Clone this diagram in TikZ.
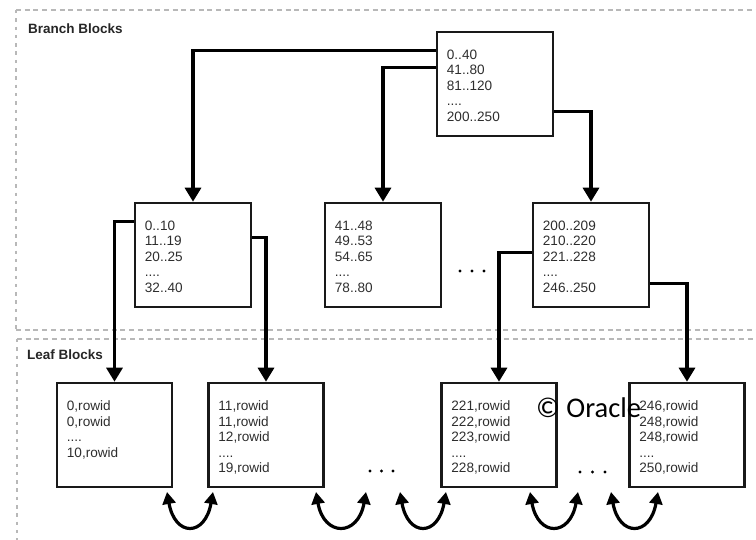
\documentclass[tikz,border=0pt]{standalone}
\usepackage{fontspec}
\setmainfont{Liberation Sans}
\newfontfamily\wmfont{Carlito}
\usetikzlibrary{arrows.meta,calc}

\begin{document}
\begin{tikzpicture}[x=1pt,y=-1pt,
  frameh/.style={draw=black!28, line width=2pt, dash pattern=on 5pt off 3.7pt},
  framev/.style={draw=black!28, line width=1.6pt, dash pattern=on 3.5pt off 4.8pt},
  blk/.style={draw=black!90, line width=2.6pt, minimum width=116pt, minimum height=104pt, inner sep=0pt},
  blktxt/.style={anchor=base west, inner sep=0pt, text width=96pt, align=left,
                 font=\fontsize{13.6}{15.5}\selectfont, text=black!82},
  link/.style={line width=3.2pt, -{Triangle[width=16pt,length=14pt]}},
  hop/.style={line width=3.2pt, {Triangle[width=13pt,length=12pt]}-{Triangle[width=13pt,length=12pt]}},
  title/.style={anchor=base west, inner sep=0pt, font=\bfseries\fontsize{13.5}{15}\selectfont, text=black!85},
  dot/.style={circle, fill=black, inner sep=0pt, minimum size=3.4pt},
]
\useasboundingbox (0,0) rectangle (756,540);

% dashed region frames
\begin{scope}
  \clip (0,0) rectangle (756,540);
  \draw[frameh] (16,10) -- (770,10);
  \draw[frameh] (16,330) -- (770,330);
  \draw[frameh] (17,339) -- (770,339);
  \draw[framev] (16,10) -- (16,330);
  \draw[framev] (17,339) -- (17,550);
\end{scope}

\node[title] (tbranch) at (28,34) {Branch Blocks};
\node[title] (tleaf) at (27,360) {Leaf Blocks};

% branch blocks
\node[blk] (root) at (495,84) {};
\node[blk] (b1) at (193,255) {};
\node[blk] (b2) at (383,255) {};
\node[blk] (b3) at (591,255) {};

% leaf blocks
\node[blk, minimum width=115pt] (l1) at (114.5,435) {};
\node[blk, minimum width=115pt] (l2) at (266,435) {};
\node[blk, minimum width=115pt] (l3) at (499,435) {};
\node[blk, minimum width=115pt] (l4) at (687,435) {};

% block contents
\node[blktxt] (root-t) at ($(root.north west)+(11,28.5)$) {0..40\\41..80\\81..120\\....\\200..250};
\node[blktxt] (b1-t) at ($(b1.north west)+(11,28.5)$) {0..10\\11..19\\20..25\\....\\32..40};
\node[blktxt] (b2-t) at ($(b2.north west)+(11,28.5)$) {41..48\\49..53\\54..65\\....\\78..80};
\node[blktxt] (b3-t) at ($(b3.north west)+(11,28.5)$) {200..209\\210..220\\221..228\\....\\246..250};
\node[blktxt] (l1-t) at ($(l1.north west)+(11,29)$) {0,rowid\\0,rowid\\....\\10,rowid};
\node[blktxt] (l2-t) at ($(l2.north west)+(11,29)$) {11,rowid\\11,rowid\\12,rowid\\....\\19,rowid};
\node[blktxt] (l3-t) at ($(l3.north west)+(11,29)$) {221,rowid\\222,rowid\\223,rowid\\....\\228,rowid};
\node[blktxt] (l4-t) at ($(l4.north west)+(11,29)$) {246,rowid\\248,rowid\\248,rowid\\....\\250,rowid};

% pointers from branch to child blocks
\draw[link] ($(root.north west)+(0,20)$) -| (b1.north);
\draw[link] ($(root.north west)+(0,37)$) -| (b2.north);
\draw[link] ($(root.north east)+(0,81)$) -| (b3.north);
\draw[link] ($(b1.north west)+(0,20)$) -| (l1.north);
\draw[link] ($(b1.north east)+(0,36)$) -| (l2.north);
\draw[link] ($(b3.north west)+(0,51)$) -| (l3.north);
\draw[link] ($(b3.north east)+(0,82)$) -| (l4.north);

% ellipses
\foreach \i/\x/\y in {1/460/271, 2/472/271, 3/484/271,
                      4/370/471, 5/381.5/471, 6/393/471,
                      7/580/472, 8/592.5/472, 9/605/472}
  \node[dot] (gap\i) at (\x,\y) {};

% sibling links between leaf blocks
\foreach \i/\a/\b in {1/167/213, 2/316/366, 3/400/446, 4/530/578, 5/611/658} {
  \coordinate (hs\i) at (\a,492);
  \coordinate (he\i) at (\b,492);
  \draw[hop] (hs\i) .. controls +(8,45) and +(-8,45) .. (he\i);
}

\node[anchor=base west, inner sep=0pt, font=\wmfont\fontsize{28.5}{30}\selectfont] (wm) at (536,417.5) {© Oracle};
\end{tikzpicture}
\end{document}
